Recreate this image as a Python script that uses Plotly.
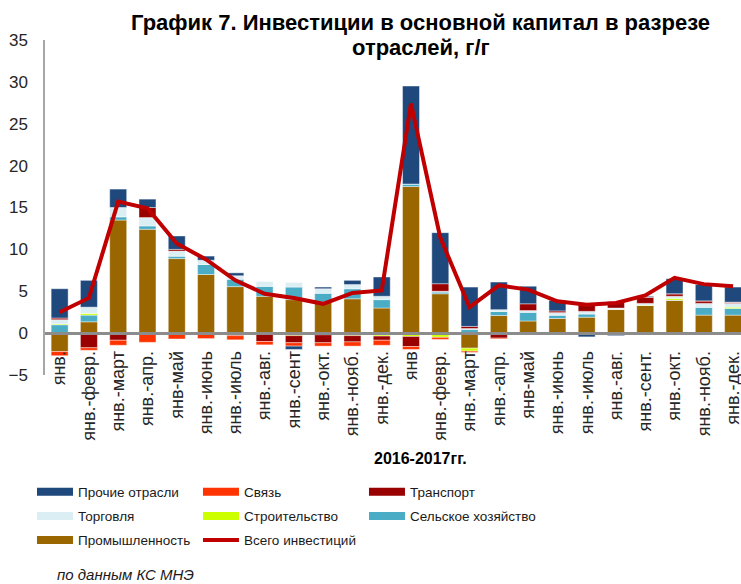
import plotly.graph_objects as go

labels = ["янв.", "янв.-февр.", "янв.-март", "янв.-апр.", "янв-май", "янв.-июнь",
          "янв.-июль", "янв.-авг.", "янв.-сент", "янв.-окт.", "янв.-нояб.", "янв.-дек.",
          "янв", "янв.-февр.", "янв.-март", "янв.-апр.", "янв-май", "янв.-июнь",
          "янв.-июль", "янв.-авг.", "янв.-сент.", "янв.-окт.", "янв.-нояб.", "янв.-дек."]

industry      = [-2.2, 1.35, 13.5, 12.4, 8.9, 7.0, 5.55, 4.4, 4.0, 3.7, 4.1, 3.0,
                 17.5, 4.7, -1.8, 2.1, 1.45, 1.75, 1.9, 2.85, 3.3, 3.9, 2.15, 2.15]
agriculture   = [1.0, 0.8, 0.4, 0.4, 0.3, 1.2, 0.9, 1.2, 1.5, 1.05, 1.2, 1.0,
                 0.3, 0.2, 0.45, 0.5, 1.05, 0.4, 0.4, 0.0, 0.0, 0.05, 0.95, 0.8]
construction  = [0.1, 0.2, 0.0, -0.1, 0.0, 0.0, 0.0, 0.0, -0.3, -0.2, -0.3, -0.35,
                 -0.4, -0.5, -0.35, 0.0, 0.0, 0.0, 0.0, 0.0, 0.05, 0.2, 0.0, 0.15]
trade         = [0.5, 0.75, 1.1, 1.0, 0.6, 0.5, 0.4, 0.6, 0.55, 0.55, 0.5, 0.4,
                 0.0, 0.1, 0.1, 0.2, 0.2, 0.3, 0.3, 0.15, 0.2, 0.25, 0.45, 0.45]
transport     = [0.2, -1.75, -0.85, 1.2, 0.2, 0.0, -0.3, -1.0, -0.85, -0.95, -0.75, -0.5,
                 -1.2, 0.9, 0.25, -0.6, 0.8, 0.2, 1.0, 0.8, 0.75, 0.3, 0.3, 0.1]
communication = [-0.5, -0.3, -0.6, -1.0, -0.7, -0.65, -0.5, -0.4, -0.4, -0.4, -0.5, -0.6,
                 -0.35, -0.25, -0.15, -0.1, -0.2, -0.15, 0.0, 0.0, 0.0, 0.0, 0.0, 0.05]
other         = [3.5, 3.2, 2.2, 1.0, 1.6, 0.5, 0.35, 0.0, -0.4, 0.2, 0.5, 2.3,
                 11.7, 6.1, 4.7, 3.3, 2.1, 1.25, -0.45, -0.3, 0.1, 1.8, 1.95, 1.8]
total         = [2.5, 4.2, 15.7, 14.9, 10.7, 8.8, 6.3, 4.7, 4.2, 3.5, 4.8, 5.1,
                 27.4, 11.4, 3.1, 5.7, 5.2, 3.8, 3.4, 3.6, 4.5, 6.6, 5.85, 5.6]

y_ticks = [-5, 0, 5, 10, 15, 20, 25, 30, 35]

x = list(range(len(labels)))
FONT = "Liberation Sans"

# (name, values, colour, legend column, rank within column)
series = [
    ("Промышленность", industry, "#996600", "legend", 3),
    ("Сельское хозяйство", agriculture, "#4BACC6", "legend3", 2),
    ("Строительство", construction, "#CCFF00", "legend2", 2),
    ("Торговля", trade, "#DAEEF3", "legend", 2),
    ("Транспорт", transport, "#990000", "legend3", 1),
    ("Связь", communication, "#FF3300", "legend2", 1),
    ("Прочие отрасли", other, "#1F497D", "legend", 1),
]

fig = go.Figure()
for name, vals, color, leg, rank in series:
    fig.add_trace(go.Bar(
        x=x, y=vals, name=name, marker_color=color,
        marker_line=dict(width=0.6, color="rgba(255,255,255,0.7)"),
        showlegend=False, legendgroup=name,
    ))
    fig.add_trace(go.Scatter(
        x=[None], y=[None], mode="lines", name=name, legendgroup=name,
        line=dict(color=color, width=8), legend=leg, legendrank=rank,
        showlegend=True,
    ))

fig.add_trace(go.Scatter(
    x=x, y=total, mode="lines", name="Всего инвестиций", legendgroup="total",
    line=dict(color="#C00000", width=4), legend="legend2", legendrank=3,
))

leg_common = dict(
    orientation="v", xanchor="left", yanchor="top", y=-0.303,
    font=dict(family=FONT, size=13.5, color="#1a1a1a"),
    traceorder="grouped", tracegroupgap=3.6, itemwidth=36,
    bgcolor="rgba(0,0,0,0)",
)

fig.update_layout(
    width=741, height=584,
    margin=dict(l=45, r=0, t=40, b=209, autoexpand=False),
    barmode="relative", bargap=0.42,
    plot_bgcolor="white", paper_bgcolor="white",
    font=dict(family=FONT, size=15, color="#262626"),
    xaxis=dict(
        range=[-0.5, 23.27], tickmode="array", tickvals=x, ticktext=labels,
        tickangle=-90, anchor="free", position=0.125,
        showline=True, linecolor="#8C8C8C", linewidth=2.5,
        showgrid=False, zeroline=False, ticks="", ticklabelstandoff=9,
        ticklabeloverflow="allow",
        tickfont=dict(size=18, color="#262626"),
    ),
    yaxis=dict(
        range=[-5, 35], tickvals=y_ticks, showgrid=False, zeroline=False,
        showline=True, linecolor="#A6A6A6", linewidth=1.5, ticks="",
        ticklabelstandoff=12, tickfont=dict(size=17, color="#262626"),
    ),
    legend=dict(x=-0.0187, **leg_common),
    legend2=dict(x=0.2198, **leg_common),
    legend3=dict(x=0.4583, **leg_common),
    annotations=[
        dict(text="<b>График 7. Инвестиции в основной капитал в разрезе</b>",
             xref="paper", yref="paper", x=0.54, y=1.0, yshift=18,
             xanchor="center", yanchor="middle", showarrow=False,
             font=dict(size=22, color="#000000")),
        dict(text="<b>отраслей, г/г</b>",
             xref="paper", yref="paper", x=0.54, y=1.0, yshift=-7,
             xanchor="center", yanchor="middle", showarrow=False,
             font=dict(size=22, color="#000000")),
        dict(text="<b>2016-2017гг.</b>",
             xref="paper", yref="paper", x=0.54, y=0, yshift=-83,
             xanchor="center", yanchor="middle", showarrow=False,
             font=dict(size=16, color="#000000")),
        dict(text="<i>по данным КС МНЭ</i>",
             xref="paper", yref="paper", x=0.014, y=0, yshift=-199,
             xanchor="left", yanchor="middle", showarrow=False,
             font=dict(size=15, color="#1a1a1a")),
    ],
)

fig.write_html("out.html", config={"displayModeBar": False},
               post_script="document.body.style.margin='0';document.body.style.padding='0';")
